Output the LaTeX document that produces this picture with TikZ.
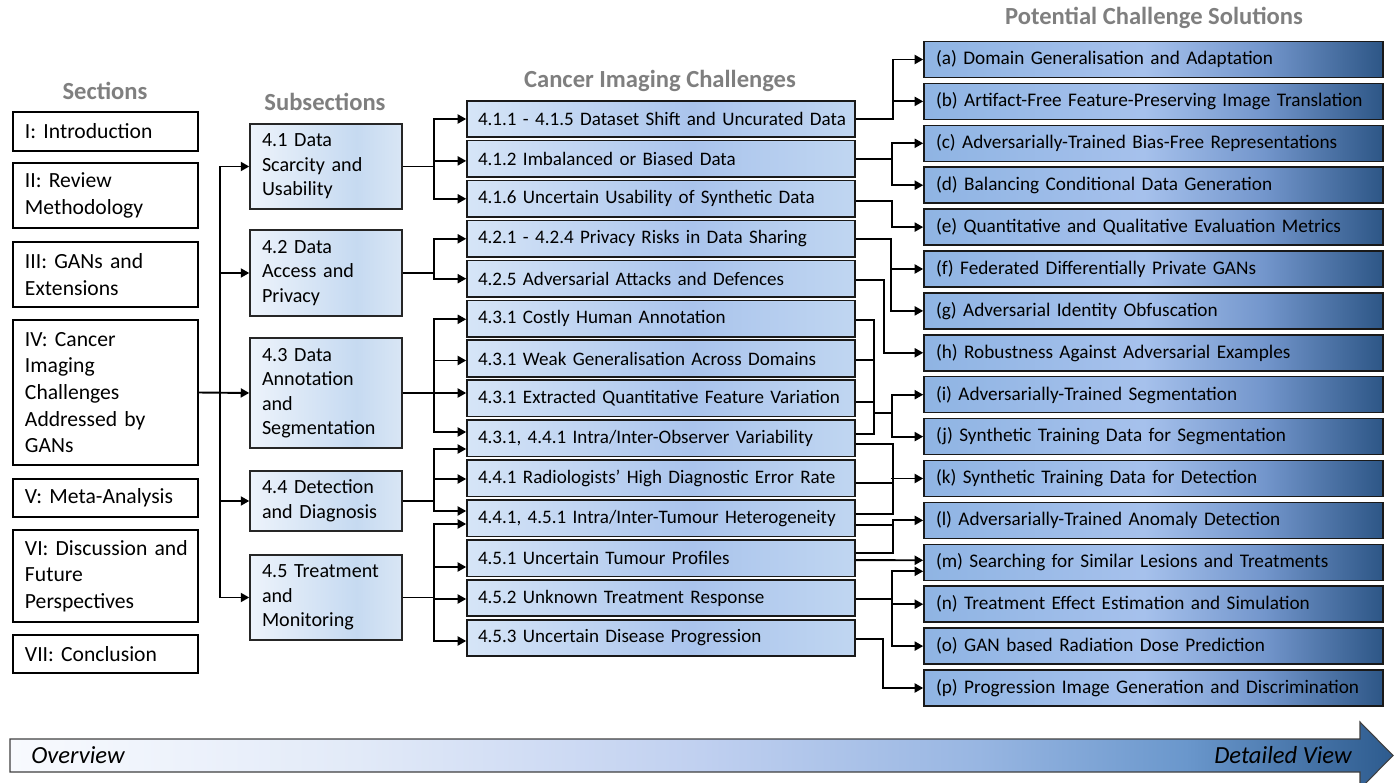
\documentclass[tikz,border=0pt]{standalone}
\usepackage{fontspec}
\setmainfont{Carlito}
\usetikzlibrary{arrows.meta,calc}
\definecolor{titlegray}{HTML}{7F7F7F}
\definecolor{solA}{HTML}{8FB4E3}
\definecolor{solB}{HTML}{A6C1EC}
\definecolor{solD}{HTML}{7396CC}
\definecolor{solC}{HTML}{2D5686}
\definecolor{chA}{HTML}{D6E5F7}
\definecolor{chB}{HTML}{AAC4EC}
\definecolor{chC}{HTML}{C0D6F1}
\definecolor{subA}{HTML}{EDF3FB}
\definecolor{subB}{HTML}{C6DAF1}
\definecolor{subC}{HTML}{D9E6F5}
\definecolor{arA}{HTML}{F8FAFE}
\definecolor{arB}{HTML}{E2EAF8}
\definecolor{arC}{HTML}{C0D0F0}
\definecolor{arD}{HTML}{98B6E2}
\definecolor{arE}{HTML}{6A97CC}
\definecolor{arF}{HTML}{2D5B8E}
\pgfdeclarehorizontalshading{solsh}{100bp}{color(0bp)=(solA); color(25bp)=(solA); color(49bp)=(solB); color(62bp)=(solD); color(75bp)=(solC); color(100bp)=(solC)}
\pgfdeclarehorizontalshading{chsh}{100bp}{color(0bp)=(chA); color(25bp)=(chA); color(54bp)=(chB); color(75bp)=(chC); color(100bp)=(chC)}
\pgfdeclarehorizontalshading{subsh}{100bp}{color(0bp)=(subA); color(25bp)=(subA); color(60bp)=(subB); color(75bp)=(subC); color(100bp)=(subC)}
\pgfdeclarehorizontalshading{arrsh}{100bp}{color(0bp)=(arA); color(25bp)=(arA); color(37.5bp)=(arB); color(50bp)=(arC); color(60bp)=(arD); color(67.5bp)=(arE); color(75bp)=(arF); color(100bp)=(arF)}
\tikzset{
  secbox/.style={draw=black, line width=0.85pt, fill=white, align=left, inner xsep=12*0.02cm, inner ysep=0pt, text width=161*0.02cm, font=\fontsize{12.3}{15.2}\selectfont},
  subbox/.style={draw=black!85, line width=0.85pt, shade, shading=subsh, align=left, inner xsep=12*0.02cm, inner ysep=0pt, text width=128*0.02cm, font=\fontsize{11.45}{13.95}\selectfont},
  chbox/.style={draw=black!90, line width=0.9pt, shade, shading=chsh, align=left, inner xsep=11*0.02cm, inner ysep=0pt, text width=366*0.02cm, minimum height=36.5*0.02cm, font=\fontsize{10.85}{13}\selectfont},
  solbox/.style={draw=black!90, line width=0.9pt, shade, shading=solsh, align=left, inner xsep=12*0.02cm, inner ysep=0pt, text width=435*0.02cm, minimum height=36*0.02cm, font=\fontsize{10.95}{13}\selectfont},
  ttl/.style={text=titlegray, inner sep=0pt, font=\bfseries\fontsize{14}{16}\selectfont},
  ln/.style={line width=1.1pt},
  arr/.style={line width=1.1pt, -{Triangle[length=0.17cm,width=0.18cm]}},
}
\newcommand\chnode[3]{\node[chbox] (#1) at (661,#2) {\mbox{#3}};}
\newcommand\solnode[3]{\node[solbox] (#1) at (1153.5,#2) {\mbox{#3}};}
\begin{document}
\begin{tikzpicture}[x=0.02cm,y=-0.02cm]
\useasboundingbox (0,0) rectangle (1400,783);

% titles
\node[ttl] (t1) at (105,91) {Sections};
\node[ttl] (t2) at (325,102) {Subsections};
\node[ttl] (t3) at (660,81) {Cancer Imaging Challenges};
\node[ttl] (t4) at (1154,18) {Potential Challenge Solutions};

% sections
\node[secbox, minimum height=39*0.02cm] (S1) at (105.5,131.5) {I: Introduction};
\node[secbox, minimum height=65*0.02cm] (S2) at (105.5,195.5) {II: Review\\Methodology};
\node[secbox, minimum height=65*0.02cm] (S3) at (105.5,274.5) {III: GANs and\\Extensions};
\node[secbox, minimum height=145*0.02cm] (S4) at (105.5,392.5) {IV: Cancer\\Imaging\\Challenges\\Addressed by\\GANs};
\node[secbox, minimum height=38*0.02cm] (S5) at (105.5,498) {V: Meta-Analysis};
\node[secbox, minimum height=92*0.02cm] (S6) at (105.5,576) {\mbox{VI: Discussion and}\\Future\\Perspectives};
\node[secbox, minimum height=38*0.02cm] (S7) at (105.5,654) {VII: Conclusion};

% subsections
\node[subbox, minimum height=85*0.02cm] (sub1) at (326,166.5) {4.1 Data\\Scarcity and\\Usability};
\node[subbox, minimum height=86*0.02cm] (sub2) at (326,273) {4.2 Data\\Access and\\Privacy};
\node[subbox, minimum height=110*0.02cm] (sub3) at (326,393) {4.3 Data\\Annotation\\and\\Segmentation};
\node[subbox, minimum height=60*0.02cm] (sub4) at (326,501) {4.4 Detection\\and Diagnosis};
\node[subbox, minimum height=85*0.02cm] (sub5) at (326,597.5) {4.5 Treatment\\and\\Monitoring};

% challenges
\chnode{C1}{119.0}{4.1.1 - 4.1.5 Dataset Shift and Uncurated Data}
\chnode{C2}{158.9}{4.1.2 Imbalanced or Biased Data}
\chnode{C3}{198.8}{4.1.6 Uncertain Usability of Synthetic Data}
\chnode{C4}{238.8}{4.2.1 - 4.2.4 Privacy Risks in Data Sharing}
\chnode{C5}{278.7}{4.2.5 Adversarial Attacks and Defences}
\chnode{C6}{318.6}{4.3.1 Costly Human Annotation}
\chnode{C7}{358.5}{4.3.1 Weak Generalisation Across Domains}
\chnode{C8}{398.4}{4.3.1 Extracted Quantitative Feature Variation}
\chnode{C9}{438.4}{4.3.1, 4.4.1 Intra/Inter-Observer Variability}
\chnode{C10}{478.3}{4.4.1 Radiologists’ High Diagnostic Error Rate}
\chnode{C11}{518.2}{4.4.1, 4.5.1 Intra/Inter-Tumour Heterogeneity}
\chnode{C12}{558.1}{4.5.1 Uncertain Tumour Profiles}
\chnode{C13}{598.0}{4.5.2 Unknown Treatment Response}
\chnode{C14}{638.0}{4.5.3 Uncertain Disease Progression}

% solutions
\solnode{sa}{59.5}{(a) Domain Generalisation and Adaptation}
\solnode{sb}{101.4}{(b) Artifact-Free Feature-Preserving Image Translation}
\solnode{sc}{143.3}{(c) Adversarially-Trained Bias-Free Representations}
\solnode{sd}{185.2}{(d) Balancing Conditional Data Generation}
\solnode{se}{227.1}{(e) Quantitative and Qualitative Evaluation Metrics}
\solnode{sf}{269.0}{(f) Federated Differentially Private GANs}
\solnode{sg}{310.9}{(g) Adversarial Identity Obfuscation}
\solnode{sh}{352.8}{(h) Robustness Against Adversarial Examples}
\solnode{si}{394.7}{(i) Adversarially-Trained Segmentation}
\solnode{sj}{436.6}{(j) Synthetic Training Data for Segmentation}
\solnode{sk}{478.5}{(k) Synthetic Training Data for Detection}
\solnode{sl}{520.4}{(l) Adversarially-Trained Anomaly Detection}
\solnode{sm}{562.3}{(m) Searching for Similar Lesions and Treatments}
\solnode{sn}{604.2}{(n) Treatment Effect Estimation and Simulation}
\solnode{so}{646.1}{(o) GAN based Radiation Dose Prediction}
\solnode{sp}{688.0}{(p) Progression Image Generation and Discrimination}

% sections -> subsections
\draw[arr] (S4.east) -- (sub3.west);
\draw[arr] (S4.east) -- ++(21,0) |- (sub1.west);
\draw[arr] (S4.east) -- ++(21,0) |- (sub2.west);
\draw[arr] (S4.east) -- ++(21,0) |- (sub4.west);
\draw[arr] (S4.east) -- ++(21,0) |- (sub5.west);

% subsections -> challenges
\draw[arr] (sub1.east) -- ++(31,0) |- (C1.west);
\draw[arr] (sub1.east) -- ++(31,0) |- ($(C2.west)+(0,2)$);
\draw[arr] (sub1.east) -- ++(31,0) |- (C3.west);
\draw[arr] (sub2.east) -- ++(31,0) |- (C4.west);
\draw[arr] (sub2.east) -- ++(31,0) |- (C5.west);
\draw[arr] (sub3.east) -- ++(31,0) |- ($(C6.west)+(0,0.7)$);
\draw[arr] (sub3.east) -- ++(31,0) |- ($(C7.west)+(0,2)$);
\draw[arr] (sub3.east) -- (sub3.east -| C8.west);
\draw[arr] (sub3.east) -- ++(31,0) |- ($(C9.west)+(0,-6.4)$);
\draw[arr] (sub4.east) -- ++(31,0) |- ($(C9.west)+(0,10.6)$);
\draw[arr] (sub4.east) -- ++(31,0) |- ($(C10.west)+(0,0.7)$);
\draw[arr] (sub4.east) -- ++(31,0) |- ($(C11.west)+(0,-7.2)$);
\draw[arr] (sub5.east) -- ++(31,0) |- ($(C11.west)+(0,5.8)$);
\draw[arr] (sub5.east) -- ++(31,0) |- ($(C12.west)+(0,8.9)$);
\draw[arr] (sub5.east) -- ++(31,0) |- ($(C13.west)+(0,1)$);
\draw[arr] (sub5.east) -- ++(31,0) |- ($(C14.west)+(0,3)$);

% challenges -> solutions
\draw[arr] (C1.east) -- ++(37,0) |- (sa.west);
\draw[arr] (C1.east) -- ++(37,0) |- (sb.west);
\draw[arr] (C2.east) -- ++(36,0) |- (sc.west);
\draw[arr] (C2.east) -- ++(36,0) |- (sd.west);
\draw[arr] ($(C3.east)+(0,2.5)$) -- ++(36,0) |- (se.west);
\draw[arr] (C4.east) -- ++(35,0) |- (sf.west);
\draw[arr] (C4.east) -- ++(35,0) |- (sg.west);
\draw[arr] ($(C5.east)+(0,1)$) -- ++(28,0) |- (sh.west);
\draw[ln] ($(C6.east)+(0,1.5)$) -- ++(18,0) |- ($(C9.east)+(0,-4)$);
\draw[ln] ($(C7.east)+(0,1.5)$) -- ++(18,0);
\draw[ln] ($(C8.east)+(0,3.5)$) -- ++(18,0);
\draw[arr] ($(C8.east)+(18,14.6)$) -- ++(18,0) |- (si.west);
\draw[arr] ($(C8.east)+(18,14.6)$) -- ++(18,0) |- (sj.west);
\draw[ln] ($(C9.east)+(0,6)$) -| ($(C11.east)+(37,-4)$) -- ($(C11.east)+(0,-4)$);
\draw[ln] ($(C10.east)+(0,5)$) -- ++(37,0);
\draw[arr] ($(sk.west)+(-32,0)$) -- (sk.west);
\draw[arr] ($(C11.east)+(0,7)$) -- ++(37,0) |- (sl.west);
\draw[ln] ($(C12.east)+(0,-5)$) -| ($(C11.east)+(37,7)$);
\draw[arr] ($(C12.east)+(0,2)$) -- ($(sm.west)+(0,-2)$);
\draw[arr] ($(C13.east)+(0,1)$) -- ++(36,0) |- ($(sm.west)+(0,9)$);
\draw[arr] ($(C13.east)+(0,1)$) -- ++(36,0) |- (sn.west);
\draw[arr] ($(C13.east)+(0,1)$) -- ++(36,0) |- (so.west);
\draw[arr] ($(C14.east)+(0,1)$) -- ++(27,0) |- (sp.west);

% bottom arrow
\path[shade, shading=arrsh, draw=black!75, line width=0.6pt] (10,739) -- (1360,739) -- (1360,722) -- (1393,755.5) -- (1360,789) -- (1360,772) -- (10,772) -- cycle;
\node[anchor=west, inner sep=0pt, font=\itshape\fontsize{14}{16}\selectfont] (ov) at (31,755.5) {Overview};
\node[anchor=east, inner sep=0pt, font=\itshape\fontsize{14}{16}\selectfont] (dv) at (1352,755.5) {Detailed View};
\end{tikzpicture}
\end{document}
